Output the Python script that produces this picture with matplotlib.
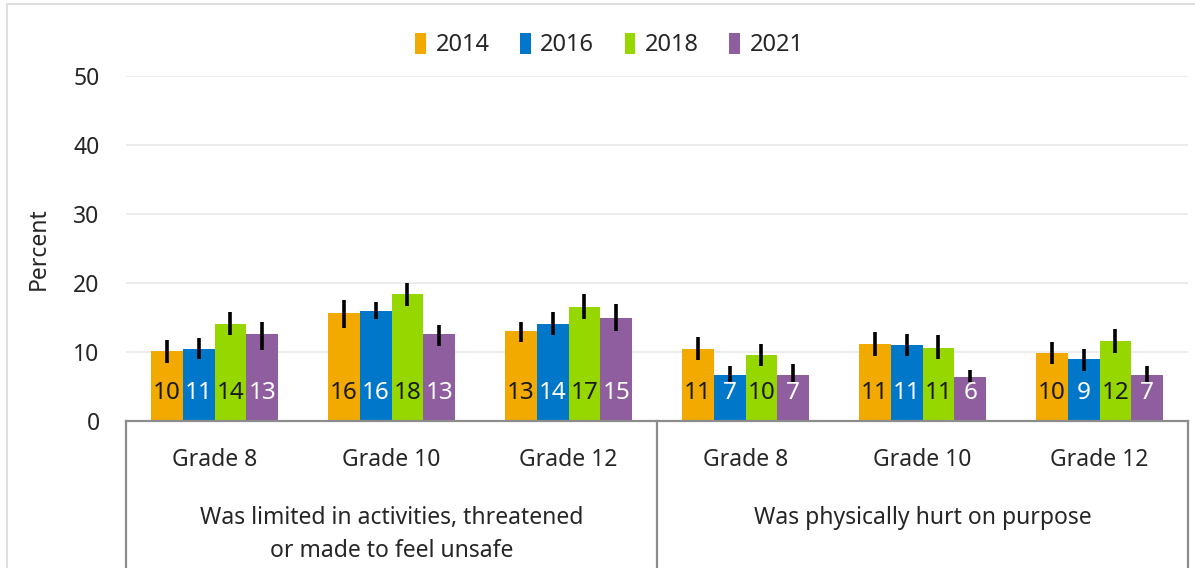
import matplotlib
matplotlib.use('Agg')
import matplotlib.pyplot as plt
from matplotlib.patches import Rectangle
import numpy as np

plt.rcParams['font.family'] = ['Noto Sans', 'DejaVu Sans']

grades = ['Grade 8', 'Grade 10', 'Grade 12', 'Grade 8', 'Grade 10', 'Grade 12']
groups = ['Was limited in activities, threatened\nor made to feel unsafe',
          'Was physically hurt on purpose']
years = ['2014', '2016', '2018', '2021']
colors = ['#F2A900', '#0077C8', '#97D700', '#8F5E9E']
text_colors = ['#1a1a1a', 'white', '#1a1a1a', 'white']

v2014 = [10.1, 15.7, 13.0, 10.5, 11.2, 9.9]
lo2014 = [8.4, 13.5, 11.4, 8.8, 9.4, 8.3]
hi2014 = [11.7, 17.6, 14.4, 12.2, 12.9, 11.5]
lab2014 = ['10', '16', '13', '11', '11', '10']

v2016 = [10.5, 16.0, 14.1, 6.7, 11.0, 9.0]
lo2016 = [9.0, 14.8, 12.4, 5.6, 9.4, 7.3]
hi2016 = [12.1, 17.3, 15.8, 7.9, 12.6, 10.5]
lab2016 = ['11', '16', '14', '7', '11', '9']

v2018 = [14.0, 18.4, 16.5, 9.6, 10.6, 11.6]
lo2018 = [12.4, 16.7, 14.8, 7.9, 9.0, 9.8]
hi2018 = [15.8, 20.0, 18.4, 11.1, 12.4, 13.3]
lab2018 = ['14', '18', '17', '10', '11', '12']

v2021 = [12.6, 12.6, 14.9, 6.7, 6.4, 6.6]
lo2021 = [10.3, 10.8, 13.1, 5.45, 5.7, 5.7]
hi2021 = [14.4, 13.9, 16.9, 8.2, 7.4, 7.9]
lab2021 = ['13', '13', '15', '7', '6', '7']

values = [v2014, v2016, v2018, v2021]
lows = [lo2014, lo2016, lo2018, lo2021]
highs = [hi2014, hi2016, hi2018, hi2021]
labels = [lab2014, lab2016, lab2018, lab2021]

fs = 16.5
fig = plt.figure(figsize=(11.95, 5.68), dpi=100)
ax = fig.add_axes([126/1195, 147/568, (1188-126)/1195, 345/568])

x = np.arange(len(grades))
w = 0.18
for k in range(4):
    pos = x + (k - 1.5) * w
    v = np.array(values[k])
    err = [v - np.array(lows[k]), np.array(highs[k]) - v]
    ax.bar(pos, v, w, color=colors[k], label=years[k], zorder=2)
    ax.errorbar(pos, v, yerr=err, fmt='none', ecolor='black', elinewidth=2.6,
                capsize=0, zorder=3)
    for p, t in zip(pos, labels[k]):
        ax.text(p, 4.0, t, ha='center', va='center', fontsize=17.5,
                color=text_colors[k], zorder=4)

ax.set_xlim(-0.5, len(grades) - 0.5)
ax.set_ylim(0, 50)
ax.set_yticks(range(0, 51, 10))
ax.tick_params(axis='y', length=0, labelsize=fs, labelcolor='#262626', pad=19)
ax.set_xticks([])
for s in ['top', 'right', 'left']:
    ax.spines[s].set_visible(False)
ax.spines['bottom'].set_color('#8c8c8c')
ax.spines['bottom'].set_linewidth(1.6)
ax.yaxis.grid(True, color='#ececec', linewidth=1.4, zorder=0)
ax.set_axisbelow(True)
ax.set_ylabel('Percent', fontsize=fs, color='#262626', labelpad=16)

tr = ax.get_xaxis_transform()
for xb in [-0.5, 2.5, 5.5]:
    ax.plot([xb, xb], [0, -0.45], transform=tr, color='#8c8c8c', lw=1.6,
            clip_on=False)
for i, g in enumerate(grades):
    ax.text(i, -0.113, g, transform=tr, ha='center', va='center',
            fontsize=fs, color='#262626')
for j, g in enumerate(groups):
    ax.text(1 + 3 * j, -0.245, g, transform=tr, ha='center', va='top',
            fontsize=fs, color='#262626', linespacing=1.55)

fig.legend(loc='center', bbox_to_anchor=(0.51, 0.921), ncol=4, frameon=False,
           fontsize=17, handlelength=0.45, handleheight=1.0,
           handletextpad=0.4, columnspacing=1.3, labelcolor='#262626')

fig.patches.append(Rectangle((7/1195, -0.1), 1.2, 1.1 - 4/568, transform=fig.transFigure,
                             fill=False, edgecolor='#d9d9d9', lw=1.2))

fig.savefig('out.png', dpi=100)
